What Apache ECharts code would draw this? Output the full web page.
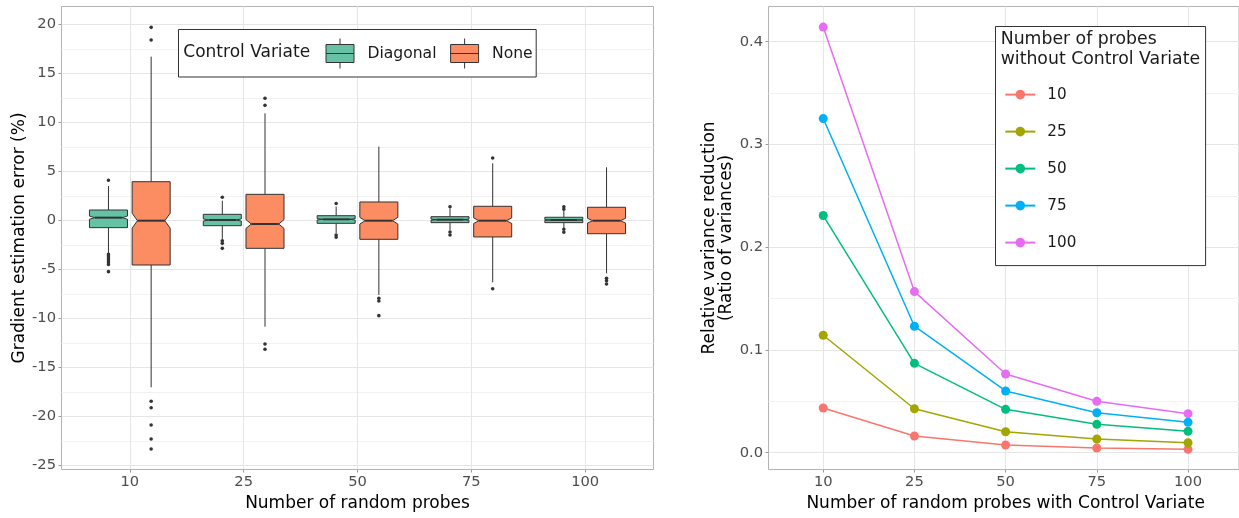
<!DOCTYPE html>
<html>
<head>
<meta charset="utf-8">
<script src="https://cdn.jsdelivr.net/npm/echarts@6/dist/echarts.min.js"></script>
<style>
html,body{margin:0;padding:0;background:#fff;}
#chart{width:1239px;height:518px;}
</style>
</head>
<body>
<div id="chart"></div>
<script>
// ---------------- data ----------------
const probes = ['10', '25', '50', '75', '100'];
const errorTicks = [-25, -20, -15, -10, -5, 0, 5, 10, 15, 20];
const ratioTicks = [0, 0.1, 0.2, 0.3, 0.4];

// box stats: [lower whisker, Q1, notch low, median, notch high, Q3, upper whisker]
const diagonalBoxes = [
  [-3.35, -0.75, 0.11, 0.27, 0.43, 1.05, 3.50],
  [-1.90, -0.55, -0.08, 0.03, 0.14, 0.61, 2.00],
  [-1.30, -0.31, 0.03, 0.10, 0.17, 0.47, 1.40],
  [-1.00, -0.24, 0.00, 0.06, 0.12, 0.37, 1.20],
  [-0.80, -0.24, -0.02, 0.03, 0.08, 0.31, 1.00]
];
const noneBoxes = [
  [-17.04, -4.56, -0.80, -0.04, 0.72, 3.94, 16.70],
  [-10.86, -2.86, -0.83, -0.38, 0.07, 2.65, 10.92],
  [-7.62, -1.94, -0.38, -0.04, 0.30, 1.87, 7.51],
  [-6.33, -1.70, -0.32, -0.04, 0.24, 1.43, 5.82],
  [-5.41, -1.37, -0.28, -0.04, 0.20, 1.33, 5.41]
];
const diagonalOutliers = [
  [4.08, -3.47, -3.65, -3.85, -4.05, -4.25, -4.50, -5.24],
  [2.35, -2.08, -2.35, -2.86],
  [1.72, -1.50, -1.73],
  [1.39, -1.20, -1.50],
  [1.39, 1.12, -0.92, -1.22]
];
const noneOutliers = [
  [19.69, 18.40, -18.47, -19.12, -20.89, -22.32, -23.34],
  [12.45, 11.73, -12.62, -13.16],
  [-7.96, -8.23, -9.73],
  [6.36, -6.98],
  [-5.92, -6.16, -6.50]
];

const ratioNames = ['10', '25', '50', '75', '100'];
const ratio10  = [0.0435, 0.0163, 0.0075, 0.0046, 0.0033];
const ratio25  = [0.1143, 0.0428, 0.0204, 0.0133, 0.0097];
const ratio50  = [0.2308, 0.0870, 0.0422, 0.0276, 0.0208];
const ratio75  = [0.3252, 0.1231, 0.0601, 0.0389, 0.0296];
const ratio100 = [0.4142, 0.1568, 0.0766, 0.0500, 0.0380];
const ratioColors = ['#F8766D', '#A3A500', '#00BF7D', '#00B0F6', '#E76BF3'];

// ---------------- layout ----------------
const FONT = 'DejaVu Sans';
const GRID_MAJOR = '#e6e6e6', GRID_MINOR = '#f2f2f2', BORDER = '#b3b3b3', TICK = '#9a9a9a', AXIS_TXT = '#4d4d4d';
const TICK_FS = 14.7, TITLE_FS = 17;

// left panel
const LP = {x0: 61.5, x1: 653.5, y0: 6.5, y1: 469.5};
const LStep = (LP.x1 - LP.x0) / 5.2;
const LTop = 24.3, LBot = 465.3; // pixel of max tick / min tick
const LPerUnit = (LBot - LTop) / (errorTicks[errorTicks.length - 1] - errorTicks[0]);
const LvMin = errorTicks[0] - (LP.y1 - LBot) / LPerUnit;
const LvMax = errorTicks[errorTicks.length - 1] + (LTop - LP.y0) / LPerUnit;

// right panel
const RP = {x0: 768.5, y0: 6.5, y1: 469.5};
const RStep = 91.2;
RP.x1 = RP.x0 + 5.2 * RStep;
const RTop = 41.7, RBot = 452.7;
const RPerUnit = (RBot - RTop) / (ratioTicks[ratioTicks.length - 1] - ratioTicks[0]);
const RvMin = ratioTicks[0] - (RP.y1 - RBot) / RPerUnit;
const RvMax = ratioTicks[ratioTicks.length - 1] + (RTop - RP.y0) / RPerUnit;

const DODGE = 0.1875, BOX_W = 0.334, NOTCH_INSET = 0.14;
const DIAG_COLOR = '#66C2A5', NONE_COLOR = '#FC8D62', LINE_DARK = '#333333';

function makeBoxRender(side, color) {
  return function (params, api) {
    const cat = api.value(0);
    const step = api.coord([1, 0])[0] - api.coord([0, 0])[0];
    const cx = api.coord([cat, 0])[0] + side * DODGE * step;
    const hw = BOX_W * step / 2;
    const inset = NOTCH_INSET * 2 * hw;
    const y = v => api.coord([cat, v])[1];
    const lo = y(api.value(1)), q1 = y(api.value(2)), nl = y(api.value(3)),
          md = y(api.value(4)), nu = y(api.value(5)), q3 = y(api.value(6)), hi = y(api.value(7));
    const L = cx - hw, R = cx + hw;
    return {
      type: 'group',
      children: [
        {type: 'line', shape: {x1: cx, y1: q3, x2: cx, y2: hi}, style: {stroke: LINE_DARK, lineWidth: 1}},
        {type: 'line', shape: {x1: cx, y1: q1, x2: cx, y2: lo}, style: {stroke: LINE_DARK, lineWidth: 1}},
        {type: 'polygon', shape: {points: [[L, q3], [R, q3], [R, nu], [R - inset, md], [R, nl], [R, q1], [L, q1], [L, nl], [L + inset, md], [L, nu]]},
          style: {fill: color, stroke: LINE_DARK, lineWidth: 1}},
        {type: 'line', shape: {x1: L + inset, y1: md, x2: R - inset, y2: md}, style: {stroke: LINE_DARK, lineWidth: 2}}
      ]
    };
  };
}
function makeOutlierRender(side) {
  return function (params, api) {
    const cat = api.value(0);
    const step = api.coord([1, 0])[0] - api.coord([0, 0])[0];
    const p = api.coord([cat, api.value(1)]);
    return {type: 'circle', shape: {cx: p[0] + side * DODGE * step, cy: p[1], r: 1.8}, style: {fill: LINE_DARK}};
  };
}

const boxIcon = 'path://M14,0L14,6M0,6L28,6L28,24L0,24ZM0,15L28,15M14,24L14,30';

const hiddenValue = (grid) => ({type: 'value', gridIndex: grid, show: false, min: 0, max: 1});

const option = {
  animation: false,
  backgroundColor: '#ffffff',
  textStyle: {fontFamily: FONT},
  title: [
    {text: 'Control Variate', left: 183.3, top: 43, padding: 0,
      textStyle: {fontFamily: FONT, fontSize: 17, fontWeight: 'normal', color: '#1a1a1a', lineHeight: 20}},
    {text: 'Number of probes\nwithout Control Variate', left: 1000.7, top: 30.3, padding: 0,
      textStyle: {fontFamily: FONT, fontSize: 17.3, fontWeight: 'normal', color: '#1a1a1a', lineHeight: 19.3}}
  ],
  legend: [
    {
      data: [{name: 'Diagonal', icon: boxIcon}, {name: 'None', icon: boxIcon}],
      orient: 'horizontal', left: 178.5, top: 29.5,
      itemWidth: 28, itemHeight: 30, itemGap: 13.6,
      padding: [8.5, 3.5, 8, 147],
      borderColor: '#333', borderWidth: 1, backgroundColor: '#ffffff',
      itemStyle: {borderColor: LINE_DARK, borderWidth: 1},
      textStyle: {fontFamily: FONT, fontSize: 15.6, color: '#1a1a1a', padding: [0, 0, 0, 8.4]},
      selectedMode: false
    },
    {
      data: ratioNames,
      orient: 'vertical', left: 995.5, top: 26.5,
      itemWidth: 30, itemHeight: 12, itemGap: 22,
      padding: [60.6, 129.3, 15.5, 8.8],
      borderColor: '#333', borderWidth: 1, backgroundColor: '#ffffff',
      textStyle: {fontFamily: FONT, fontSize: 15.2, color: '#1a1a1a', padding: [0, 0, 0, 7]},
      selectedMode: false
    }
  ],
  grid: [
    {left: LP.x0, top: LP.y0, width: LP.x1 - LP.x0, height: LP.y1 - LP.y0, show: true, borderColor: BORDER, borderWidth: 1, containLabel: false},
    {left: LP.x0, top: LTop, width: LP.x1 - LP.x0, height: LBot - LTop, containLabel: false},
    {left: LP.x0 + 0.6 * LStep, top: LP.y0, width: 4 * LStep, height: LP.y1 - LP.y0, containLabel: false},
    {left: RP.x0, top: RP.y0, width: RP.x1 - RP.x0, height: RP.y1 - RP.y0, show: true, borderColor: BORDER, borderWidth: 1, containLabel: false},
    {left: RP.x0, top: RTop, width: RP.x1 - RP.x0, height: RBot - RTop, containLabel: false},
    {left: RP.x0 + 0.6 * RStep, top: RP.y0, width: 4 * RStep, height: RP.y1 - RP.y0, containLabel: false}
  ],
  xAxis: [
    hiddenValue(0),
    hiddenValue(1),
    {
      type: 'category', gridIndex: 2, data: probes, boundaryGap: false, position: 'bottom',
      axisLine: {show: false, onZero: false},
      axisTick: {show: true, length: 3, lineStyle: {color: TICK}},
      axisLabel: {color: AXIS_TXT, fontSize: TICK_FS, fontFamily: FONT, margin: 5},
      splitLine: {show: true, lineStyle: {color: GRID_MAJOR, width: 1}},
      name: 'Number of random probes', nameLocation: 'middle', nameGap: 26,
      nameTextStyle: {fontFamily: FONT, fontSize: TITLE_FS, color: '#000'}
    },
    hiddenValue(3),
    hiddenValue(4),
    {
      type: 'category', gridIndex: 5, data: probes, boundaryGap: false, position: 'bottom',
      axisLine: {show: false, onZero: false},
      axisTick: {show: true, length: 3, lineStyle: {color: TICK}},
      axisLabel: {color: AXIS_TXT, fontSize: TICK_FS, fontFamily: FONT, margin: 5},
      splitLine: {show: true, lineStyle: {color: GRID_MAJOR, width: 1}},
      name: 'Number of random probes with Control Variate', nameLocation: 'middle', nameGap: 26,
      nameTextStyle: {fontFamily: FONT, fontSize: TITLE_FS, color: '#000'}
    }
  ],
  yAxis: [
    {
      type: 'value', gridIndex: 0, min: 0, max: 1,
      axisLine: {show: false, onZero: false}, axisTick: {show: false}, axisLabel: {show: false}, splitLine: {show: false},
      name: 'Gradient estimation error (%)', nameLocation: 'middle', nameGap: 33,
      nameTextStyle: {fontFamily: FONT, fontSize: TITLE_FS, color: '#000'}
    },
    {
      type: 'value', gridIndex: 1,
      min: errorTicks[0], max: errorTicks[errorTicks.length - 1], interval: errorTicks[1] - errorTicks[0],
      axisLine: {show: false, onZero: false},
      axisTick: {show: true, length: 3, lineStyle: {color: TICK}},
      axisLabel: {color: AXIS_TXT, fontSize: TICK_FS, fontFamily: FONT, margin: 5.5},
      splitLine: {show: true, lineStyle: {color: GRID_MAJOR, width: 1}},
      minorTick: {show: false, splitNumber: 2},
      minorSplitLine: {show: true, lineStyle: {color: GRID_MINOR, width: 1}}
    },
    {type: 'value', gridIndex: 2, show: false, min: LvMin, max: LvMax, axisLine: {onZero: false}},
    {
      type: 'value', gridIndex: 3, min: 0, max: 1,
      axisLine: {show: false, onZero: false}, axisTick: {show: false}, axisLabel: {show: false}, splitLine: {show: false},
      name: 'Relative variance reduction\n(Ratio of variances)', nameLocation: 'middle', nameGap: 33,
      nameTextStyle: {fontFamily: FONT, fontSize: TITLE_FS, color: '#000', lineHeight: 17.5}
    },
    {
      type: 'value', gridIndex: 4,
      min: ratioTicks[0], max: ratioTicks[ratioTicks.length - 1], interval: ratioTicks[1] - ratioTicks[0],
      axisLine: {show: false, onZero: false},
      axisTick: {show: true, length: 3, lineStyle: {color: TICK}},
      axisLabel: {color: AXIS_TXT, fontSize: TICK_FS, fontFamily: FONT, margin: 5.5, formatter: v => v.toFixed(1)},
      splitLine: {show: true, lineStyle: {color: GRID_MAJOR, width: 1}},
      minorTick: {show: false, splitNumber: 2},
      minorSplitLine: {show: true, lineStyle: {color: GRID_MINOR, width: 1}}
    },
    {type: 'value', gridIndex: 5, show: false, min: RvMin, max: RvMax, axisLine: {onZero: false}}
  ],
  series: [
    {
      name: 'Diagonal', type: 'custom', xAxisIndex: 2, yAxisIndex: 2,
      itemStyle: {color: DIAG_COLOR},
      renderItem: makeBoxRender(-1, DIAG_COLOR),
      encode: {x: 0, y: [1, 2, 3, 4, 5, 6, 7]},
      data: diagonalBoxes.map((b, i) => [i].concat(b))
    },
    {
      name: 'None', type: 'custom', xAxisIndex: 2, yAxisIndex: 2,
      itemStyle: {color: NONE_COLOR},
      renderItem: makeBoxRender(1, NONE_COLOR),
      encode: {x: 0, y: [1, 2, 3, 4, 5, 6, 7]},
      data: noneBoxes.map((b, i) => [i].concat(b))
    },
    {
      name: 'Diagonal', type: 'custom', xAxisIndex: 2, yAxisIndex: 2,
      itemStyle: {color: DIAG_COLOR},
      renderItem: makeOutlierRender(-1),
      encode: {x: 0, y: 1},
      data: diagonalOutliers.flatMap((arr, i) => arr.map(v => [i, v]))
    },
    {
      name: 'None', type: 'custom', xAxisIndex: 2, yAxisIndex: 2,
      itemStyle: {color: NONE_COLOR},
      renderItem: makeOutlierRender(1),
      encode: {x: 0, y: 1},
      data: noneOutliers.flatMap((arr, i) => arr.map(v => [i, v]))
    }
  ].concat([ratio10, ratio25, ratio50, ratio75, ratio100].map((vals, k) => ({
    name: ratioNames[k], type: 'line', xAxisIndex: 5, yAxisIndex: 5,
    data: vals,
    symbol: 'circle', symbolSize: 9, showSymbol: true,
    itemStyle: {color: ratioColors[k]},
    lineStyle: {color: ratioColors[k], width: 1.5},
    emphasis: {disabled: true},
    clip: false
  })))
};

const chart = echarts.init(document.getElementById('chart'), null, {renderer: 'canvas'});
chart.setOption(option);
</script>
</body>
</html>
